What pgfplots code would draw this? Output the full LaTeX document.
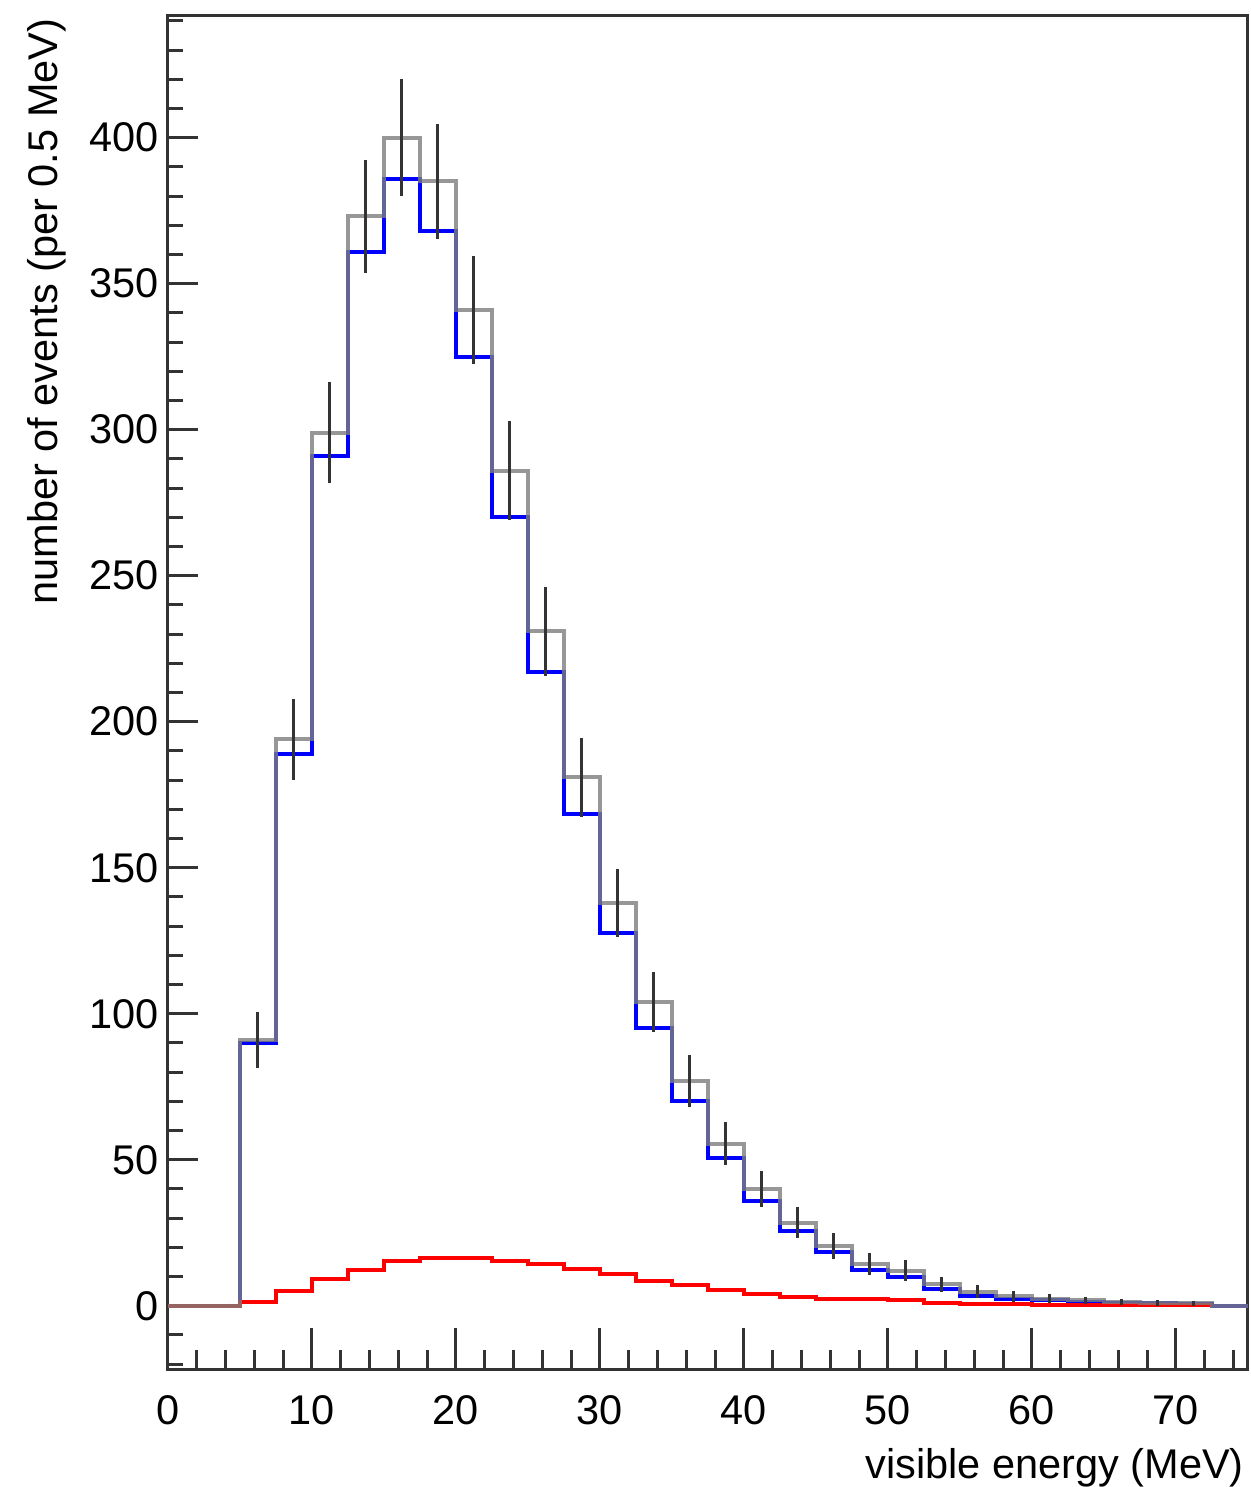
\documentclass[border=0pt]{standalone}
\usepackage{fontspec}
\setmainfont{Liberation Sans}
\usepackage{pgfplots}
\pgfplotsset{compat=1.18}
\begin{document}
\begin{tikzpicture}
\begin{axis}[
  scale only axis,
  width=216pt, height=271pt,
  xmin=0, xmax=75, ymin=-22, ymax=442,
  tick pos=left,
  tick align=inside,
  xtick={0,10,...,70},
  ytick={0,50,...,400},
  minor xtick={2,4,...,74},
  minor ytick={-20,-10,...,440},
  major tick length=7pt,
  minor tick length=3.5pt,
  xtick style={/pgfplots/major tick length=8.4pt,/pgfplots/minor tick length=4pt},
  ytick style={/pgfplots/major tick length=6pt,/pgfplots/minor tick length=3pt},
  every tick/.style={line width=0.6pt, black!80},
  axis line style={line width=0.6pt, black!80},
  /pgf/number format/assume math mode=true,
  tick label style={font=\fontsize{8.3}{10}\selectfont},
  yticklabel style={inner sep=0pt, xshift=-1.6pt},
  xticklabel style={inner sep=0pt, yshift=-5pt},
  label style={font=\fontsize{8.3}{10}\selectfont, inner sep=0pt},
  xlabel={visible energy (MeV)},
  xlabel style={at={(axis description cs:0.997,-0.057)}, anchor=north east},
  ylabel={number of events (per 0.5 MeV)},
  ylabel style={at={(axis description cs:-0.0935,0.998)}, anchor=south east},
  clip=true,
]
% signal (blue)
\addplot[const plot, blue, line width=0.8pt] coordinates {
(0,0) (5,90) (7.5,189) (10,291) (12.5,361) (15,386) (17.5,368) (20,325)
(22.5,270) (25,217) (27.5,168.5) (30,127.5) (32.5,95) (35,70) (37.5,50.6)
(40,36) (42.5,25.5) (45,18.4) (47.5,12.1) (50,10) (52.5,5.8) (55,3.5)
(57.5,2.4) (60,1.8) (62.5,1.3) (65,1.1) (67.5,0.8) (70,0.6) (72.5,0) (75,0)};
% background (red)
\addplot[const plot, red, line width=0.8pt] coordinates {
(0,0) (5,1.2) (7.5,5.1) (10,9.2) (12.5,12.4) (15,15.4) (17.5,16.5) (20,16.5)
(22.5,15.4) (25,14.4) (27.5,12.6) (30,10.8) (32.5,8.5) (35,7.2) (37.5,5.4)
(40,4.1) (42.5,3.0) (45,2.4) (47.5,2.2) (50,2.0) (52.5,0.9) (55,0.7)
(57.5,0.6) (60,0.3) (62.5,0.3) (65,0.2) (67.5,0.2) (70,0.2) (72.5,0.2)};
% total (gray)
\addplot[const plot, color={rgb,255:red,125;green,125;blue,125}, opacity=0.8, line width=0.8pt] coordinates {
(0,0) (5,91) (7.5,194) (10,299) (12.5,373) (15,400) (17.5,385) (20,341)
(22.5,286) (25,231) (27.5,181) (30,138) (32.5,104) (35,77) (37.5,55.5)
(40,40) (42.5,28.5) (45,20.5) (47.5,14.3) (50,12) (52.5,7.3) (55,4.8)
(57.5,3.2) (60,2.4) (62.5,1.8) (65,1.3) (67.5,1.0) (70,0.8) (72.5,0) (75,0)};
% error bars
\addplot[draw=none, mark=none,
  error bars/.cd, y dir=both, y explicit, error mark=none,
  error bar style={draw=black!80, solid, line width=0.6pt}] coordinates {
(6.25,91) +- (0,9.5)
(8.75,194) +- (0,13.9)
(11.25,299) +- (0,17.3)
(13.75,373) +- (0,19.3)
(16.25,400) +- (0,20.0)
(18.75,385) +- (0,19.6)
(21.25,341) +- (0,18.5)
(23.75,286) +- (0,16.9)
(26.25,231) +- (0,15.2)
(28.75,181) +- (0,13.5)
(31.25,138) +- (0,11.7)
(33.75,104) +- (0,10.2)
(36.25,77) +- (0,8.8)
(38.75,55.5) +- (0,7.4)
(41.25,40) +- (0,6.3)
(43.75,28.5) +- (0,5.3)
(46.25,20.5) +- (0,4.5)
(48.75,14.3) +- (0,3.8)
(51.25,12) +- (0,3.5)
(53.75,7.3) +- (0,2.7)
(56.25,4.8) +- (0,2.2)
(58.75,3.2) +- (0,1.8)
(61.25,2.4) +- (0,1.5)
(63.75,1.8) +- (0,1.3)
(66.25,1.3) +- (0,1.1)
(68.75,1.0) +- (0,1.0)
(71.25,0.8) +- (0,0.9)
};
\end{axis}
\pgfresetboundingbox
\path[use as bounding box] ([xshift=-33.6pt,yshift=-23.4pt]current axis.south west) rectangle ([xshift=0.6pt,yshift=3pt]current axis.north east);
\end{tikzpicture}
\end{document}
